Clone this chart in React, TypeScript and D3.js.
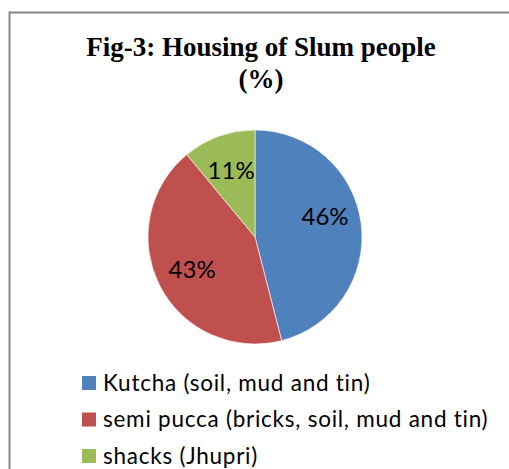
import { useEffect, useRef } from 'react';
import * as d3 from 'd3';

const categories = ['Kutcha (soil, mud and tin)', 'semi pucca (bricks, soil, mud and tin)', 'shacks (Jhupri)'];
const values = [46, 43, 11];
const colors = ['#4F81BD', '#C0504D', '#9BBB59'];
const titleLines = ['Fig-3: Housing of Slum people', '(%)'];

const App = () => {
    const ref = useRef<SVGSVGElement>(null);
    const width = 509, height = 469;
    const cx = 255, cy = 237, radius = 107;

    useEffect(() => {
        const svg = d3.select(ref.current);
        svg.selectAll('*').remove();

        svg.append('rect')
            .attr('x', 9.5).attr('y', 12.5)
            .attr('width', 520).attr('height', 480)
            .attr('fill', '#fff').attr('stroke', '#888').attr('stroke-width', 2);

        svg.selectAll('text.title')
            .data(titleLines)
            .enter().append('text')
            .attr('class', 'title')
            .attr('x', 261)
            .attr('y', (d, i) => 56 + i * 32)
            .attr('text-anchor', 'middle')
            .attr('font-family', '"Liberation Serif", serif')
            .attr('font-weight', 'bold')
            .attr('font-size', 27)
            .text((d) => d);

        const pie = d3.pie<number>().sort(null).value((d) => d);
        const arcs = pie(values);
        const arc = d3.arc<d3.PieArcDatum<number>>().innerRadius(0).outerRadius(radius);
        const labelArc = d3.arc<d3.PieArcDatum<number>>().innerRadius(radius * 0.66).outerRadius(radius * 0.66);

        const g = svg.append('g').attr('transform', `translate(${cx},${cy})`);
        g.selectAll('path')
            .data(arcs)
            .enter().append('path')
            .attr('d', arc)
            .attr('fill', (d, i) => colors[i])
            .attr('stroke', '#fff')
            .attr('stroke-width', 0.6);

        g.selectAll('text')
            .data(arcs)
            .enter().append('text')
            .attr('transform', (d) => {
                const [x, y] = labelArc.centroid(d);
                // excel pulls the big label a bit up
                return `translate(${x},${d.index === 0 ? y - 12 : y})`;
            })
            .attr('text-anchor', 'middle')
            .attr('dy', '0.36em')
            .attr('font-family', 'Lato, sans-serif')
            .attr('font-size', 24)
            .attr('fill', '#000')
            .text((d) => `${d.data}%`);

        const legend = svg.append('g').attr('transform', 'translate(82,376)');
        const rows = legend.selectAll('g')
            .data(categories)
            .enter().append('g')
            .attr('transform', (d, i) => `translate(0,${i * 36.5})`);
        rows.append('rect')
            .attr('width', 14).attr('height', 14)
            .attr('fill', (d, i) => colors[i]);
        rows.append('text')
            .attr('x', 21).attr('y', 7)
            .attr('dy', '0.34em')
            .attr('font-family', 'Lato, sans-serif')
            .attr('font-size', 22.5)
            .attr('letter-spacing', 0.75)
            .attr('fill', '#000')
            .text((d) => d);
    }, []);

    return (
        <svg ref={ref} width={width} height={height}
            style={{ position: 'absolute', left: 0, top: 0, background: '#fff' }} />
    );
};

export default App;
